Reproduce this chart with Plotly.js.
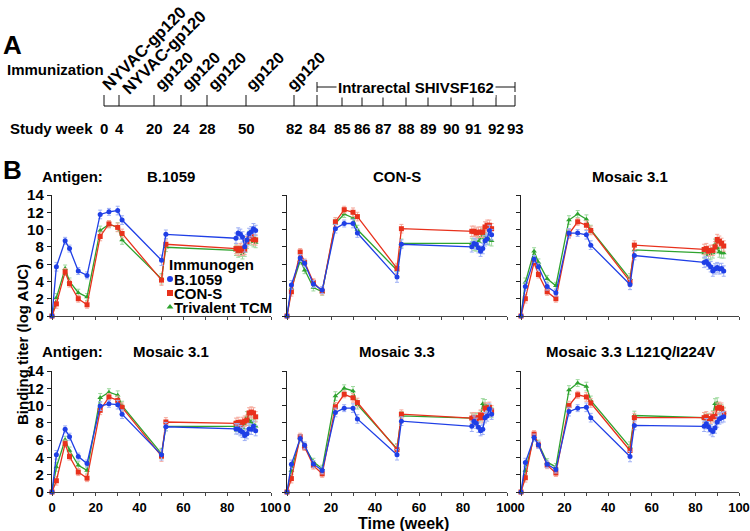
<!DOCTYPE html>
<html><head><meta charset="utf-8">
<script src="https://cdn.plot.ly/plotly-3.0.1.min.js"></script>
<style>html,body{margin:0;padding:0;background:#fff}</style>
</head><body><div id="chart" style="width:750px;height:531px"></div>
<script>
// ---------- data ----------
const weeks = [0,2,6,8,12,16,22,26,30,32,50,52,84,85,86,87,88,89,90,91,92,93];
const errBar = [0,0.5,0.4,0.4,0.4,0.4,0.5,0.4,0.5,0.5,0.6,0.5,0.6,0.6,0.6,0.6,0.6,0.6,0.6,0.6,0.6,0.6];
const immunogens = ['B.1059','CON-S','Trivalent TCM'];
const antigens = ['B.1059','CON-S','Mosaic 3.1','Mosaic 3.1','Mosaic 3.3','Mosaic 3.3 L121Q/I224V'];

// antigen B.1059
const agB1059_B1059 = [0,5.7,8.7,7.8,5.2,4.7,11.75,12.05,12.2,11.1,6.45,9.45,9.0,9.6,9.45,9.15,8.0,8.8,9.55,9.75,10.1,9.9];
const agB1059_CONS  = [0,1.4,5.1,3.75,2.0,1.3,9.2,10.65,10.25,9.55,4.15,8.3,7.8,7.6,7.8,7.6,7.7,8.6,9.0,9.2,8.85,8.8];
const agB1059_TCM   = [0,2.1,5.5,4.0,2.7,2.2,9.9,10.6,10.3,8.8,4.3,7.95,7.6,7.4,7.5,7.2,7.5,8.4,9.2,8.8,8.6,8.5];
// antigen CON-S
const agCONS_B1059 = [0,3.6,6.7,6.1,3.7,3.0,10.1,10.7,10.7,9.6,4.5,8.3,8.0,8.4,8.3,7.9,7.5,7.8,8.7,8.9,9.9,9.4];
const agCONS_CONS  = [0,2.8,7.4,6.2,3.9,2.85,10.9,12.3,12.0,11.5,5.5,10.1,9.8,9.8,9.6,9.7,9.7,9.7,10.3,10.5,10.5,10.1];
const agCONS_TCM   = [0,3.2,6.4,5.3,3.3,2.8,10.7,11.8,11.35,10.0,5.3,8.4,8.4,8.2,8.1,8.6,9.1,9.5,9.1,8.9,8.8,8.7];
// antigen Mosaic 3.1 (top)
const agM31a_B1059 = [0,3.4,6.6,5.7,3.4,2.7,9.6,9.6,9.4,8.2,3.65,7.0,6.2,6.3,6.0,5.7,5.2,5.45,5.6,5.45,5.5,5.2];
const agM31a_CONS  = [0,2.0,6.2,4.8,2.8,2.0,9.5,10.9,10.5,9.9,4.0,8.2,7.7,7.8,7.5,7.6,7.6,8.0,8.85,8.65,8.4,8.1];
const agM31a_TCM   = [0,3.9,7.5,6.2,4.3,3.5,11.1,11.8,11.2,10.0,4.3,7.65,7.3,7.2,7.1,7.1,7.3,8.3,7.9,7.4,7.3,7.3];
// antigen Mosaic 3.1 (bottom)
const agM31b_B1059 = [0,4.3,7.25,6.4,4.1,3.3,9.95,10.2,10.1,9.0,4.3,7.55,7.3,7.3,7.1,6.9,6.55,6.75,7.3,7.25,7.6,7.1];
const agM31b_CONS  = [0,1.3,5.6,4.1,2.3,1.6,9.45,11.0,10.6,9.8,4.15,8.1,7.95,8.05,7.8,8.05,8.2,8.3,9.15,9.25,9.15,8.7];
const agM31b_TCM   = [0,2.9,6.05,4.8,3.1,2.5,10.9,11.55,11.2,10.0,4.45,7.6,7.6,7.6,7.5,7.45,7.8,8.7,8.3,8.1,7.8,7.6];
// antigen Mosaic 3.3
const agM33_B1059 = [0,3.2,6.2,5.4,3.25,2.5,9.2,9.7,9.7,8.45,4.3,8.2,7.6,8.2,7.95,7.5,7.1,7.25,8.6,8.8,9.6,9.0];
const agM33_CONS  = [0,1.55,6.4,5.2,3.05,2.1,9.85,11.3,10.9,10.35,4.9,9.0,8.55,8.6,8.3,8.6,8.9,8.6,9.7,9.7,9.8,9.4];
const agM33_TCM   = [0,2.5,6.25,5.25,3.5,2.7,11.1,12.0,11.7,10.1,5.0,8.8,8.55,8.4,8.5,8.6,8.8,10.2,10.1,9.5,9.5,9.2];
// antigen Mosaic 3.3 L121Q/I224V
const agM33m_B1059 = [0,3.4,6.3,5.45,3.2,2.6,9.3,9.7,9.8,8.6,4.1,7.7,7.6,7.9,7.55,7.2,7.0,7.4,8.1,8.45,8.6,8.7];
const agM33m_CONS  = [0,1.65,6.7,5.45,3.1,2.2,10.0,11.25,11.0,10.3,4.8,8.6,8.6,8.7,8.4,8.5,8.7,8.75,9.7,9.8,9.7,9.1];
const agM33m_TCM   = [0,2.5,6.4,5.6,3.45,2.9,11.8,12.6,12.2,10.6,5.2,8.85,8.6,8.4,8.5,8.4,8.8,10.2,10.3,9.6,9.5,9.2];

// panel A schematic
const studyWeeks = ['0','4','20','24','28','50','82','84','85','86','87','88','89','90','91','92','93'];
const studyWeekPos = [104,119,154,181,207,246,294,317,342,362,383,406,428,451,473,496,515];
const immunizations = ['NYVAC-gp120','NYVAC-gp120','gp120','gp120','gp120','gp120','gp120'];
const challengeLabel = 'Intrarectal SHIVSF162';

// ---------- build ----------
const FONT = 'Arial, "Liberation Sans", sans-serif';
const colors = ['#1f3fe6','#e8311c','#2ea32e'];
const errColors = ['#9fb0f5','#f5a99c','#9ed99e'];
const symbols = ['circle','square','triangle-up'];
const panelSeries = [
  [agB1059_B1059, agB1059_CONS, agB1059_TCM],
  [agCONS_B1059, agCONS_CONS, agCONS_TCM],
  [agM31a_B1059, agM31a_CONS, agM31a_TCM],
  [agM31b_B1059, agM31b_CONS, agM31b_TCM],
  [agM33_B1059, agM33_CONS, agM33_TCM],
  [agM33m_B1059, agM33m_CONS, agM33m_TCM]
];
const W = 750, H = 531;
const px = v => v / W, py = v => 1 - v / H;
const colDom = [[px(52),px(271)],[px(287),px(507)],[px(521),px(739)]];
const rowDom = [[py(316),py(195)],[py(492),py(371)]];
const bold = (size) => ({size:size, family:FONT, weight:'bold', color:'#000'});

const data = [];
const layout = {
  width: W, height: H, margin:{l:0,r:0,t:0,b:0},
  paper_bgcolor:'#fff', plot_bgcolor:'rgba(0,0,0,0)', showlegend:false,
  font:{family:FONT, color:'#000'},
  annotations:[], shapes:[]
};

panelSeries.forEach((series, p) => {
  const idx = p + 1;
  const col = p % 3, row = Math.floor(p / 3);
  const xa = 'x' + idx, ya = 'y' + idx;
  [2,1,0].forEach(s => {
    data.push({
      type:'scatter', mode:'lines+markers', x: weeks, y: series[s],
      xaxis: xa, yaxis: ya, name: immunogens[s], cliponaxis:false,
      line:{color:colors[s], width:1.3},
      marker:{color:colors[s], symbol:symbols[s], size:5},
      error_y:{type:'data', array:errBar, visible:true, color:errColors[s], thickness:1, width:2}
    });
  });
  const xticks = [0,10,20,30,40,50,60,70,80,90,100];
  layout['xaxis' + idx] = {
    domain: colDom[col], anchor: ya, range:[0,100], showgrid:false, zeroline:false,
    showline:true, linecolor:'#444', linewidth:1.2, ticks:'outside', ticklen:3, tickwidth:1, tickcolor:'#444',
    tickvals: xticks, ticktext: xticks.map(v => v % 20 === 0 ? String(v) : ''),
    showticklabels: row === 1, tickfont: bold(13), fixedrange:true
  };
  layout['yaxis' + idx] = {
    domain: rowDom[row], anchor: xa, range:[0,14], showgrid:false, zeroline:false,
    showline:true, linecolor:'#222', linewidth:1.2, ticks:'outside', ticklen:4, tickwidth:1, tickcolor:'#222',
    tickvals:[0,2,4,6,8,10,12,14], showticklabels: col === 0,
    tickfont: bold(15), fixedrange:true
  };
  const titleY = row === 0 ? 177 : 351;
  layout.annotations.push({xref:'paper', yref:'paper', x: (colDom[col][0]+colDom[col][1])/2 + (col===0 ? px(9) : 0),
    y: py(titleY), text: antigens[p], showarrow:false, xanchor:'center', yanchor:'middle', font: bold(15)});
  if (col === 0) {
    layout.annotations.push({xref:'paper', yref:'paper', x: px(40), y: py(titleY), text:'Antigen:',
      showarrow:false, xanchor:'left', yanchor:'middle', font: bold(15)});
  }
});

// overlay axis (pixel units) for schematic panel A and legend keys
layout.xaxis7 = {domain:[0,1], range:[0,W], visible:false, fixedrange:true, anchor:'y7'};
layout.yaxis7 = {domain:[0,1], range:[H,0], visible:false, fixedrange:true, anchor:'x7'};

// timeline
const tlX = [], tlY = [];
studyWeekPos.forEach(p => { tlX.push(p, p, null); tlY.push(95, 106, null); });
data.push({type:'scatter', mode:'lines', x:[studyWeekPos[0], studyWeekPos[studyWeekPos.length-1]], y:[106,106],
  xaxis:'x7', yaxis:'y7', line:{color:'#555', width:1.6}, hoverinfo:'skip', showlegend:false});
data.push({type:'scatter', mode:'lines', x:tlX, y:tlY, xaxis:'x7', yaxis:'y7',
  line:{color:'#111', width:1}, hoverinfo:'skip', showlegend:false});
const cS = studyWeekPos[7], cE = studyWeekPos[studyWeekPos.length-1];
data.push({type:'scatter', mode:'lines', x:[cS,cS,null,cS,cE,null,cE,cE], y:[82,92,null,87,87,null,82,92],
  xaxis:'x7', yaxis:'y7', line:{color:'#111', width:1}, hoverinfo:'skip', showlegend:false});
layout.annotations.push({xref:'x7', yref:'y7', x:(cS+cE)/2, y:87, text:challengeLabel, showarrow:false,
  xanchor:'center', yanchor:'middle', bgcolor:'#fff', borderpad:1, font: bold(15)});

studyWeeks.forEach((w, i) => {
  layout.annotations.push({xref:'x7', yref:'y7', x:studyWeekPos[i], y:128, text:w, showarrow:false,
    xanchor:'center', yanchor:'middle', font: bold(15)});
});
// rotated immunization labels: start point relative to tick, then centre of the 45° text box
const labelShiftX = [-4, 1, -1, -1, -1, -2, -9];
const labelBaseY  = [92, 96, 92, 92, 92, 92, 92];
immunizations.forEach((t, i) => {
  const isNY = t.length > 6;
  const half = isNY ? 44 : 20.5;
  layout.annotations.push({xref:'x7', yref:'y7',
    x: studyWeekPos[i] + labelShiftX[i] + half, y: labelBaseY[i] - half,
    text:t, showarrow:false, textangle:-45, xanchor:'center', yanchor:'middle',
    font: bold(isNY ? 16.5 : 16)});
});
layout.annotations.push({xref:'x7', yref:'y7', x:5, y:69, text:'Immunization', showarrow:false,
  xanchor:'left', yanchor:'middle', font: bold(15)});
layout.annotations.push({xref:'x7', yref:'y7', x:95, y:128, text:'Study week', showarrow:false,
  xanchor:'right', yanchor:'middle', font: bold(15)});
layout.annotations.push({xref:'x7', yref:'y7', x:1, y:45, text:'A', showarrow:false,
  xanchor:'left', yanchor:'middle', font: bold(26)});
layout.annotations.push({xref:'x7', yref:'y7', x:1, y:170, text:'B', showarrow:false,
  xanchor:'left', yanchor:'middle', font: bold(26)});

// axis titles
layout.annotations.push({xref:'paper', yref:'paper', x:px(22), y:py(345), text:'Binding titer (log AUC)',
  textangle:-90, showarrow:false, xanchor:'center', yanchor:'middle', font: bold(15)});
layout.annotations.push({xref:'paper', yref:'paper', x:px(404), y:py(523), text:'Time (week)',
  showarrow:false, xanchor:'center', yanchor:'middle', font: bold(16)});

// legend (Immunogen) drawn in-panel
const legKeyY = [279, 293, 307];
data.push({type:'scatter', mode:'markers', x:[170,170,170], y:legKeyY, xaxis:'x7', yaxis:'y7',
  marker:{color:colors, symbol:symbols, size:6}, hoverinfo:'skip', showlegend:false, cliponaxis:false});
layout.annotations.push({xref:'x7', yref:'y7', x:167, y:264, text:'Immunogen', showarrow:false,
  xanchor:'left', yanchor:'middle', font: bold(15)});
immunogens.forEach((g, i) => {
  layout.annotations.push({xref:'x7', yref:'y7', x:173, y:legKeyY[i], text:g, showarrow:false,
    xanchor:'left', yanchor:'middle', borderpad:0, font: bold(15)});
});

Plotly.newPlot('chart', data, layout, {displayModeBar:false, staticPlot:true});
</script>
</body></html>
